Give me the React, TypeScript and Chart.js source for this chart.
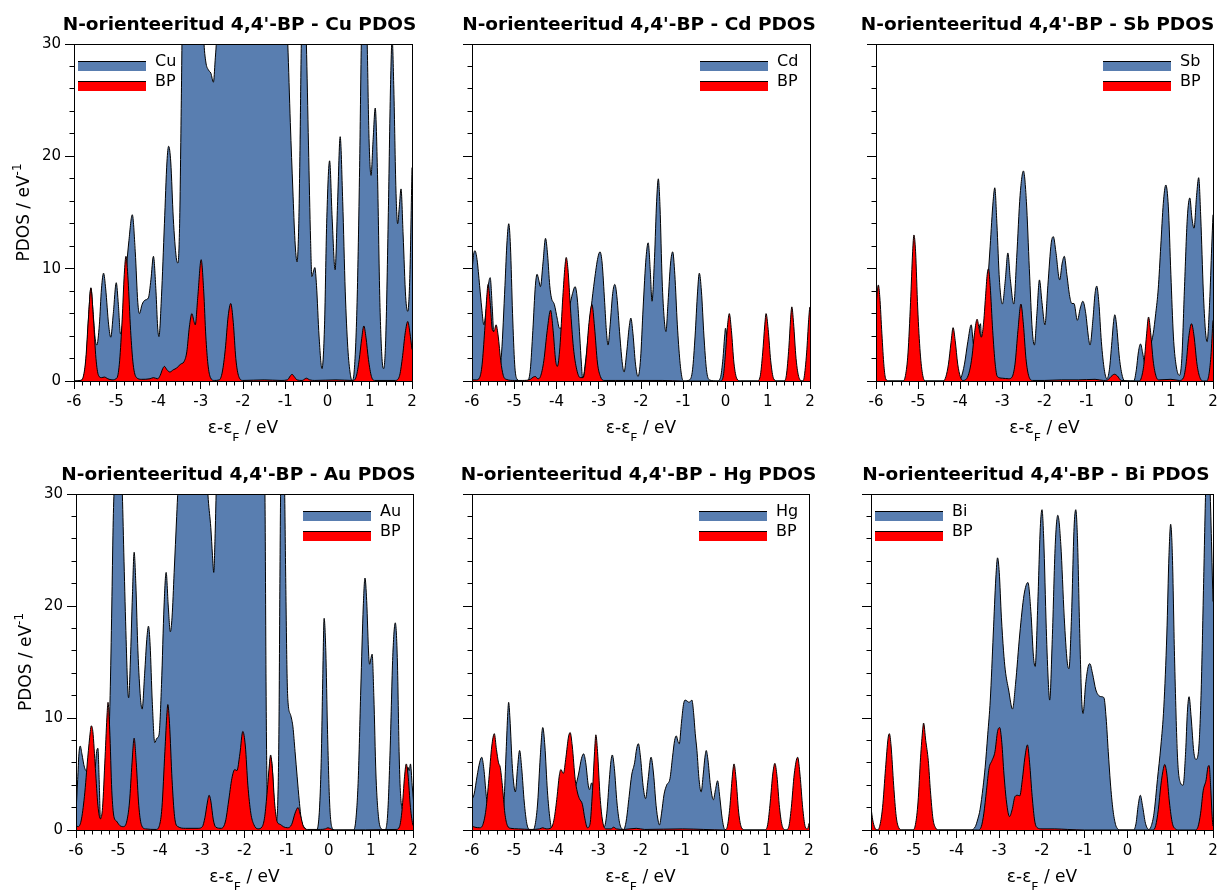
import React, { useEffect, useRef } from 'react';
import { Chart, registerables } from 'chart.js';

Chart.register(...registerables);

type Pt = [number, number];

// ---------- DATA (energy eV, PDOS eV^-1) ----------
const CU_METAL: Pt[] = [
  [-6.0, 0], [-5.85, 0.05], [-5.76, 0.5], [-5.70, 2.6], [-5.65, 6.0], [-5.60, 8.3], [-5.55, 6.2], [-5.50, 3.8],
  [-5.46, 3.2], [-5.40, 5.0], [-5.35, 8.2], [-5.30, 9.6], [-5.25, 8.2], [-5.18, 5.0], [-5.13, 3.9], [-5.07, 6.0],
  [-5.00, 8.75], [-4.95, 6.8], [-4.90, 4.2], [-4.84, 5.5], [-4.77, 9.5], [-4.70, 12.5], [-4.62, 14.8], [-4.55, 11.5],
  [-4.49, 7.0], [-4.45, 6.0], [-4.39, 6.8], [-4.32, 7.2], [-4.24, 7.4], [-4.18, 9.0], [-4.12, 11.1], [-4.06, 8.0],
  [-4.02, 4.8], [-3.99, 3.95], [-3.93, 7.5], [-3.86, 14.0], [-3.80, 19.5], [-3.76, 20.9], [-3.71, 19.5], [-3.65, 14.5],
  [-3.58, 11.0], [-3.54, 10.5], [-3.50, 14.0], [-3.46, 25.0], [-3.43, 34.0], [-3.30, 40.0], [-3.10, 42.0], [-2.98, 36.0],
  [-2.93, 30.5], [-2.88, 28.4], [-2.82, 27.7], [-2.76, 27.4], [-2.70, 26.6], [-2.66, 28.5], [-2.62, 31.0], [-2.55, 40.0],
  [-2.00, 45.0], [-1.20, 45.0], [-1.00, 35.0], [-0.94, 30.0], [-0.88, 23.0], [-0.82, 17.0], [-0.77, 12.5], [-0.72, 10.6],
  [-0.68, 14.0], [-0.65, 21.0], [-0.62, 30.0], [-0.57, 34.0], [-0.53, 33.0], [-0.50, 30.0], [-0.45, 21.0], [-0.40, 12.5],
  [-0.37, 9.3], [-0.33, 9.8], [-0.30, 10.1], [-0.26, 8.5], [-0.20, 4.0], [-0.13, 1.1], [-0.07, 5.0], [-0.02, 14.0],
  [0.05, 19.6], [0.11, 14.5], [0.18, 9.9], [0.24, 16.0], [0.30, 21.75], [0.36, 16.0], [0.42, 8.0], [0.48, 3.0],
  [0.54, 0.6], [0.58, 0.05], [0.63, 0.8], [0.70, 7.0], [0.76, 19.0], [0.80, 30.0], [0.85, 38.0], [0.90, 36.0],
  [0.94, 30.0], [0.98, 22.0], [1.03, 18.3], [1.08, 21.5], [1.13, 24.3], [1.18, 19.0], [1.24, 7.0], [1.29, 2.0],
  [1.33, 1.1], [1.38, 4.0], [1.44, 15.0], [1.49, 26.0], [1.53, 30.5], [1.57, 26.0], [1.62, 17.0], [1.66, 14.0],
  [1.70, 15.5], [1.74, 17.1], [1.79, 13.0], [1.85, 7.5], [1.90, 6.2], [1.95, 9.5], [2.00, 19.0], [2.05, 28.0],
];
const CU_BP: Pt[] = [
  [-6.0, 0], [-5.85, 0.05], [-5.78, 0.4], [-5.72, 2.0], [-5.66, 5.5], [-5.60, 8.25], [-5.54, 5.5], [-5.48, 2.0],
  [-5.42, 0.5], [-5.35, 0.3], [-5.28, 0.35], [-5.20, 0.2], [-5.10, 0.1], [-4.98, 0.3], [-4.92, 1.8], [-4.86, 5.5],
  [-4.81, 9.5], [-4.77, 11.1], [-4.72, 9.0], [-4.66, 4.5], [-4.60, 1.5], [-4.52, 0.3], [-4.40, 0.15], [-4.20, 0.2],
  [-4.12, 0.3], [-4.02, 0.2], [-3.96, 0.5], [-3.90, 1.1], [-3.86, 1.3], [-3.80, 1.0], [-3.73, 0.8], [-3.65, 1.0],
  [-3.57, 1.15], [-3.48, 1.5], [-3.40, 1.7], [-3.33, 2.6], [-3.27, 4.8], [-3.21, 6.0], [-3.16, 5.3], [-3.13, 5.0],
  [-3.07, 7.5], [-2.99, 10.8], [-2.93, 8.0], [-2.88, 4.0], [-2.83, 1.5], [-2.77, 0.3], [-2.68, 0.05], [-2.56, 0.1],
  [-2.49, 0.8], [-2.42, 2.8], [-2.35, 5.8], [-2.29, 6.9], [-2.23, 5.2], [-2.17, 2.0], [-2.10, 0.4], [-2.00, 0.05],
  [-1.50, 0.1], [-1.10, 0.05], [-0.95, 0.1], [-0.88, 0.45], [-0.84, 0.6], [-0.79, 0.4], [-0.72, 0.1], [-0.60, 0.05],
  [-0.50, 0.25], [-0.42, 0.1], [-0.30, 0.05], [0.20, 0.1], [0.60, 0.05], [0.68, 0.4], [0.75, 1.9], [0.81, 3.8],
  [0.86, 4.9], [0.91, 3.9], [0.97, 1.9], [1.04, 0.4], [1.12, 0.05], [1.60, 0.05], [1.70, 0.4], [1.77, 2.0],
  [1.84, 4.3], [1.90, 5.3], [1.95, 4.3], [2.00, 2.8], [2.05, 1.3],
];

const CD_METAL: Pt[] = [
  [-6.0, 9.8], [-5.96, 11.3], [-5.93, 11.6], [-5.88, 10.8], [-5.82, 8.5], [-5.77, 6.5], [-5.72, 5.0], [-5.67, 6.2],
  [-5.61, 8.6], [-5.57, 9.2], [-5.52, 6.5], [-5.48, 3.5], [-5.43, 1.2], [-5.37, 0.6], [-5.30, 2.5], [-5.22, 8.5],
  [-5.17, 12.5], [-5.13, 14.0], [-5.09, 12.0], [-5.04, 6.0], [-4.99, 1.5], [-4.94, 0.2], [-4.85, 0], [-4.68, 0.05],
  [-4.62, 1.0], [-4.56, 4.5], [-4.50, 8.5], [-4.46, 9.5], [-4.42, 9.0], [-4.38, 8.4], [-4.32, 10.5], [-4.26, 12.7],
  [-4.21, 11.2], [-4.16, 8.5], [-4.12, 7.4], [-4.05, 6.8], [-3.98, 5.5], [-3.93, 4.7], [-3.86, 4.8], [-3.78, 5.3],
  [-3.70, 6.5], [-3.62, 7.8], [-3.56, 8.4], [-3.50, 7.0], [-3.45, 4.0], [-3.41, 1.5], [-3.38, 0.2], [-3.32, 1.5],
  [-3.25, 4.0], [-3.18, 6.5], [-3.10, 9.0], [-3.02, 11.0], [-2.97, 11.5], [-2.92, 10.5], [-2.86, 7.0], [-2.82, 4.5],
  [-2.78, 3.2], [-2.73, 5.0], [-2.67, 7.8], [-2.62, 8.6], [-2.57, 7.5], [-2.50, 4.0], [-2.44, 1.5], [-2.40, 0.8],
  [-2.34, 2.5], [-2.28, 4.8], [-2.24, 5.6], [-2.19, 4.2], [-2.13, 1.5], [-2.07, 0.4], [-2.01, 2.0], [-1.95, 6.5],
  [-1.88, 11.0], [-1.83, 12.3], [-1.78, 9.8], [-1.74, 7.1], [-1.68, 11.0], [-1.63, 16.0], [-1.59, 18.0], [-1.55, 15.5],
  [-1.50, 9.0], [-1.45, 5.5], [-1.41, 4.4], [-1.36, 7.0], [-1.30, 10.5], [-1.25, 11.5], [-1.20, 9.5], [-1.14, 5.0],
  [-1.08, 1.8], [-1.03, 0.3], [-0.98, 0], [-0.85, 0.1], [-0.78, 1.0], [-0.72, 4.0], [-0.66, 8.0], [-0.62, 9.6],
  [-0.57, 8.0], [-0.51, 4.0], [-0.45, 1.0], [-0.38, 0.1], [-0.20, 0], [-0.12, 0.3], [-0.06, 2.0], [-0.02, 4.0],
  [0.0, 4.7], [0.04, 3.5], [0.09, 1.5], [0.13, 0.5], [0.18, 0.05], [0.30, 0], [2.05, 0],
];
const CD_BP: Pt[] = [
  [-6.0, 0.1], [-5.90, 0.1], [-5.82, 0.3], [-5.76, 1.5], [-5.70, 4.5], [-5.65, 7.5], [-5.62, 8.6], [-5.57, 7.0],
  [-5.52, 4.6], [-5.48, 4.4], [-5.43, 5.0], [-5.38, 4.0], [-5.32, 1.8], [-5.26, 0.5], [-5.19, 0.15], [-5.00, 0.05],
  [-4.80, 0.05], [-4.62, 0.15], [-4.55, 0.35], [-4.50, 0.4], [-4.44, 0.2], [-4.38, 0.4], [-4.30, 1.8], [-4.22, 4.5],
  [-4.14, 6.3], [-4.08, 4.5], [-4.02, 1.8], [-3.98, 1.3], [-3.92, 3.0], [-3.85, 7.5], [-3.80, 10.2], [-3.77, 11.0],
  [-3.73, 10.0], [-3.67, 6.5], [-3.60, 3.0], [-3.52, 1.0], [-3.44, 0.3], [-3.37, 0.3], [-3.30, 2.0], [-3.23, 5.2],
  [-3.16, 6.8], [-3.10, 4.8], [-3.03, 1.6], [-2.96, 0.4], [-2.88, 0.05], [-2.60, 0.05], [-2.00, 0.05], [-1.50, 0.05],
  [-1.00, 0], [-0.12, 0], [-0.05, 0.5], [0.0, 2.5], [0.05, 5.0], [0.09, 6.0], [0.14, 4.5], [0.20, 1.6],
  [0.27, 0.2], [0.35, 0], [0.75, 0], [0.82, 0.4], [0.88, 2.5], [0.93, 5.0], [0.96, 6.0], [1.01, 4.6],
  [1.07, 1.8], [1.14, 0.2], [1.22, 0], [1.38, 0], [1.44, 0.5], [1.50, 3.0], [1.54, 5.5], [1.57, 6.6],
  [1.61, 5.2], [1.67, 2.0], [1.74, 0.3], [1.82, 0], [1.86, 0.3], [1.92, 2.5], [1.97, 5.5], [2.0, 6.6], [2.05, 5.5],
];

const SB_METAL: Pt[] = [
  [-6.0, 0], [-4.05, 0], [-3.98, 0.3], [-3.90, 1.5], [-3.82, 3.5], [-3.74, 5.0], [-3.68, 3.2], [-3.60, 3.6],
  [-3.52, 5.1], [-3.48, 2.4], [-3.42, 4.5], [-3.36, 8.0], [-3.29, 12.0], [-3.22, 16.0], [-3.18, 17.2], [-3.13, 14.0],
  [-3.07, 9.0], [-3.00, 6.85], [-2.93, 9.0], [-2.87, 11.4], [-2.81, 9.0], [-2.73, 6.85], [-2.66, 11.0], [-2.58, 16.5],
  [-2.50, 18.7], [-2.43, 16.0], [-2.36, 10.0], [-2.29, 4.5], [-2.24, 3.2], [-2.18, 6.0], [-2.12, 9.0], [-2.06, 7.0],
  [-1.99, 5.0], [-1.92, 8.5], [-1.84, 12.3], [-1.79, 12.85], [-1.73, 11.5], [-1.64, 9.0], [-1.58, 10.5], [-1.53, 11.1],
  [-1.47, 9.5], [-1.40, 7.5], [-1.35, 6.9], [-1.30, 6.9], [-1.22, 5.4], [-1.15, 6.5], [-1.09, 7.1], [-1.02, 6.0],
  [-0.96, 4.0], [-0.92, 3.2], [-0.85, 5.5], [-0.80, 7.8], [-0.76, 8.45], [-0.71, 7.0], [-0.65, 3.5], [-0.58, 1.0],
  [-0.52, 0.2], [-0.46, 1.0], [-0.40, 3.5], [-0.36, 5.3], [-0.33, 5.9], [-0.29, 5.0], [-0.22, 2.0], [-0.15, 0.4],
  [-0.09, 0], [0.12, 0], [0.18, 1.0], [0.23, 2.6], [0.28, 3.3], [0.33, 2.5], [0.38, 1.6], [0.45, 2.2],
  [0.52, 3.2], [0.58, 4.2], [0.64, 6.0], [0.70, 8.2], [0.76, 12.0], [0.82, 15.8], [0.88, 17.45], [0.94, 15.5],
  [1.00, 9.5], [1.06, 4.0], [1.12, 1.5], [1.20, 0.5], [1.26, 2.0], [1.32, 8.0], [1.39, 14.5], [1.45, 16.3],
  [1.50, 14.5], [1.55, 13.6], [1.61, 16.5], [1.66, 18.1], [1.71, 14.5], [1.77, 8.0], [1.82, 4.5], [1.86, 3.5],
  [1.92, 7.0], [1.97, 12.0], [2.0, 14.8], [2.05, 19.0],
];
const SB_BP: Pt[] = [
  [-6.0, 6.5], [-5.97, 8.0], [-5.945, 8.55], [-5.91, 7.5], [-5.86, 4.2], [-5.81, 1.3], [-5.77, 0.2], [-5.70, 0],
  [-5.36, 0], [-5.30, 0.5], [-5.24, 2.5], [-5.18, 7.0], [-5.13, 11.5], [-5.10, 13.0], [-5.06, 11.5], [-5.01, 6.5],
  [-4.95, 2.5], [-4.89, 0.5], [-4.82, 0], [-4.40, 0], [-4.34, 0.4], [-4.28, 1.5], [-4.22, 3.4], [-4.17, 4.75],
  [-4.12, 3.6], [-4.06, 1.5], [-4.00, 0.4], [-3.94, 0.05], [-3.85, 0.2], [-3.78, 0.9], [-3.72, 2.2], [-3.66, 4.3],
  [-3.60, 5.5], [-3.55, 4.6], [-3.50, 3.9], [-3.45, 5.0], [-3.40, 7.5], [-3.36, 9.5], [-3.33, 10.0], [-3.29, 8.5],
  [-3.23, 4.5], [-3.17, 1.5], [-3.12, 0.4], [-3.00, 0.25], [-2.85, 0.2], [-2.78, 0.3], [-2.70, 1.5], [-2.63, 4.5],
  [-2.56, 6.85], [-2.50, 5.0], [-2.44, 2.0], [-2.37, 0.4], [-2.28, 0.05], [-2.00, 0.05], [-1.60, 0.1], [-1.20, 0.1],
  [-0.80, 0.15], [-0.60, 0.05], [-0.50, 0.1], [-0.42, 0.4], [-0.34, 0.6], [-0.27, 0.45], [-0.18, 0.05], [0.25, 0],
  [0.30, 0.3], [0.36, 1.5], [0.42, 4.0], [0.47, 5.7], [0.52, 4.3], [0.58, 1.8], [0.65, 0.4], [0.72, 0.1],
  [1.00, 0.15], [1.20, 0.05], [1.30, 0.3], [1.36, 1.5], [1.42, 3.8], [1.49, 5.1], [1.55, 4.0], [1.62, 1.5],
  [1.69, 0.3], [1.78, 0], [1.85, 0], [1.90, 0.5], [1.95, 2.2], [2.0, 5.4], [2.05, 7.0],
];

const AU_METAL: Pt[] = [
  [-6.0, 1.5], [-5.96, 4.5], [-5.93, 6.8], [-5.90, 7.5], [-5.86, 6.8], [-5.80, 5.6], [-5.72, 5.2], [-5.64, 6.0],
  [-5.55, 5.5], [-5.51, 7.0], [-5.48, 7.3], [-5.45, 4.5], [-5.42, 1.0], [-5.32, 1.8], [-5.24, 6.0], [-5.19, 12.0],
  [-5.15, 20.0], [-5.12, 27.0], [-5.09, 31.0], [-5.00, 38.0], [-4.93, 33.0], [-4.90, 30.0], [-4.86, 24.0], [-4.81, 17.0],
  [-4.77, 12.5], [-4.75, 11.8], [-4.71, 15.0], [-4.66, 21.0], [-4.62, 24.8], [-4.58, 22.0], [-4.53, 16.0], [-4.47, 11.8],
  [-4.43, 10.8], [-4.37, 14.0], [-4.32, 17.0], [-4.28, 18.2], [-4.24, 16.5], [-4.19, 11.5], [-4.13, 7.8], [-4.08, 8.2],
  [-4.03, 8.5], [-3.97, 13.0], [-3.91, 20.0], [-3.86, 23.0], [-3.81, 20.0], [-3.76, 17.7], [-3.72, 19.0], [-3.67, 23.0],
  [-3.61, 28.0], [-3.58, 30.5], [-3.50, 38.0], [-3.00, 40.0], [-2.90, 32.0], [-2.86, 29.5], [-2.80, 27.0], [-2.76, 24.5],
  [-2.73, 23.0], [-2.70, 26.0], [-2.67, 30.5], [-2.60, 38.0], [-1.60, 40.0], [-1.53, 35.0], [-1.51, 28.0], [-1.49, 14.0],
  [-1.47, 5.0], [-1.45, 2.5], [-1.42, 4.5], [-1.38, 6.5], [-1.34, 5.5], [-1.29, 2.0], [-1.25, 0.8], [-1.21, 2.5],
  [-1.18, 10.0], [-1.16, 22.0], [-1.14, 31.0], [-1.10, 36.0], [-1.05, 31.0], [-1.02, 22.0], [-0.99, 14.0], [-0.97, 11.6],
  [-0.90, 10.2], [-0.85, 9.2], [-0.80, 7.0], [-0.75, 4.75], [-0.70, 2.6], [-0.65, 0.9], [-0.57, 0.2], [-0.48, 0],
  [-0.30, 0], [-0.24, 0.8], [-0.18, 6.0], [-0.14, 14.0], [-0.11, 18.9], [-0.07, 16.0], [-0.03, 9.0], [0.02, 2.5],
  [0.07, 0.3], [0.14, 0], [0.58, 0], [0.64, 0.8], [0.70, 4.5], [0.76, 12.5], [0.82, 20.0], [0.86, 22.5],
  [0.90, 20.5], [0.95, 15.5], [0.97, 14.8], [1.00, 15.3], [1.03, 15.7], [1.07, 12.0], [1.12, 5.0], [1.18, 1.2],
  [1.25, 0.1], [1.33, 0], [1.40, 1.5], [1.46, 7.5], [1.52, 15.5], [1.58, 18.5], [1.63, 15.0], [1.67, 7.0],
  [1.70, 3.5], [1.76, 1.8], [1.82, 3.5], [1.88, 5.6], [1.91, 5.3], [1.94, 5.9], [1.98, 4.0], [2.03, 1.8],
];
const AU_BP: Pt[] = [
  [-6.0, 0.4], [-5.95, 0.3], [-5.88, 0.8], [-5.80, 3.0], [-5.72, 6.5], [-5.66, 8.8], [-5.64, 9.3], [-5.60, 8.8],
  [-5.54, 5.5], [-5.48, 2.2], [-5.42, 1.0], [-5.37, 2.0], [-5.31, 6.5], [-5.26, 10.5], [-5.24, 11.4], [-5.20, 9.0],
  [-5.15, 3.5], [-5.10, 1.2], [-5.04, 0.8], [-4.96, 0.4], [-4.88, 0.3], [-4.80, 0.7], [-4.73, 2.5], [-4.67, 6.0],
  [-4.62, 8.2], [-4.57, 6.0], [-4.51, 2.2], [-4.45, 0.5], [-4.35, 0.1], [-4.10, 0.05], [-4.02, 0.4], [-3.96, 2.0],
  [-3.89, 7.0], [-3.84, 10.5], [-3.82, 11.2], [-3.78, 9.5], [-3.72, 4.5], [-3.66, 1.2], [-3.58, 0.3], [-3.40, 0.15],
  [-3.10, 0.15], [-3.00, 0.3], [-2.94, 1.1], [-2.88, 2.5], [-2.84, 3.1], [-2.80, 2.6], [-2.74, 0.9], [-2.68, 0.25],
  [-2.55, 0.15], [-2.45, 0.8], [-2.38, 2.5], [-2.30, 4.6], [-2.23, 5.4], [-2.18, 5.3], [-2.11, 6.8], [-2.04, 8.8],
  [-1.98, 7.5], [-1.92, 4.0], [-1.85, 1.5], [-1.78, 0.5], [-1.68, 0.1], [-1.58, 0.3], [-1.52, 1.2], [-1.46, 3.5],
  [-1.41, 5.8], [-1.38, 6.7], [-1.34, 5.5], [-1.28, 2.2], [-1.22, 0.7], [-1.15, 0.5], [-1.08, 0.3], [-0.98, 0.2],
  [-0.88, 0.5], [-0.80, 1.5], [-0.73, 2.0], [-0.67, 1.3], [-0.60, 0.3], [-0.50, 0.05], [-0.20, 0.05], [-0.08, 0.1],
  [-0.02, 0.2], [0.05, 0.1], [0.15, 0], [1.60, 0.05], [1.68, 0.3], [1.74, 1.8], [1.80, 4.8], [1.84, 5.9],
  [1.88, 5.0], [1.94, 2.0], [2.0, 0.4], [2.05, 0.1],
];

const HG_METAL: Pt[] = [
  [-6.0, 2.7], [-5.95, 3.2], [-5.88, 4.8], [-5.82, 6.0], [-5.77, 6.5], [-5.72, 5.5], [-5.66, 3.0], [-5.60, 1.2],
  [-5.52, 0.4], [-5.40, 0.2], [-5.30, 0.4], [-5.24, 2.5], [-5.19, 7.0], [-5.15, 10.5], [-5.13, 11.4], [-5.10, 10.0],
  [-5.04, 5.5], [-4.97, 3.4], [-4.92, 5.5], [-4.87, 7.1], [-4.82, 5.5], [-4.76, 2.5], [-4.70, 0.6], [-4.64, 0.05],
  [-4.56, 0], [-4.50, 0.5], [-4.44, 2.5], [-4.38, 6.5], [-4.32, 9.15], [-4.27, 7.5], [-4.21, 3.5], [-4.15, 1.0],
  [-4.10, 0.1], [-4.02, 0.4], [-3.95, 1.0], [-3.85, 2.0], [-3.75, 2.5], [-3.65, 3.0], [-3.55, 3.8], [-3.47, 5.0],
  [-3.40, 6.4], [-3.35, 6.8], [-3.30, 6.0], [-3.24, 4.0], [-3.21, 3.6], [-3.16, 4.2], [-3.10, 3.5], [-3.04, 2.5],
  [-2.98, 1.0], [-2.92, 0.3], [-2.86, 0.3], [-2.80, 1.5], [-2.74, 4.5], [-2.70, 6.2], [-2.67, 6.7], [-2.62, 5.5],
  [-2.56, 2.5], [-2.50, 0.7], [-2.44, 0.1], [-2.40, 0.05], [-2.34, 0.8], [-2.27, 3.0], [-2.21, 4.9], [-2.14, 6.0],
  [-2.09, 7.3], [-2.05, 7.7], [-2.00, 6.5], [-1.94, 4.0], [-1.88, 2.8], [-1.82, 4.5], [-1.75, 6.5], [-1.69, 5.0],
  [-1.63, 2.2], [-1.58, 0.8], [-1.55, 0.45], [-1.50, 1.5], [-1.44, 3.2], [-1.38, 4.0], [-1.30, 4.6], [-1.24, 6.5],
  [-1.19, 8.0], [-1.15, 8.4], [-1.11, 7.9], [-1.08, 7.7], [-1.03, 9.5], [-0.98, 11.2], [-0.94, 11.6], [-0.89, 11.5],
  [-0.85, 11.4], [-0.81, 11.5], [-0.78, 11.6], [-0.74, 10.5], [-0.70, 8.6], [-0.66, 7.1], [-0.61, 4.5], [-0.56, 3.4],
  [-0.51, 5.0], [-0.47, 6.5], [-0.44, 7.1], [-0.40, 6.3], [-0.34, 4.0], [-0.27, 2.7], [-0.22, 3.6], [-0.17, 4.4],
  [-0.12, 3.0], [-0.06, 1.0], [0.0, 0.05], [0.10, 0], [2.05, 0],
];
const HG_BP: Pt[] = [
  [-6.0, 0.35], [-5.93, 0.25], [-5.82, 0.2], [-5.74, 0.5], [-5.67, 1.8], [-5.60, 4.5], [-5.53, 7.5], [-5.47, 8.6],
  [-5.42, 7.2], [-5.37, 6.0], [-5.33, 5.6], [-5.28, 4.0], [-5.22, 1.5], [-5.16, 0.4], [-5.08, 0.15], [-4.90, 0.1],
  [-4.60, 0.05], [-4.40, 0.1], [-4.32, 0.2], [-4.24, 0.1], [-4.12, 0.2], [-4.05, 1.0], [-3.98, 3.0], [-3.93, 4.8],
  [-3.89, 5.4], [-3.83, 5.05], [-3.77, 6.5], [-3.71, 8.3], [-3.67, 8.7], [-3.62, 7.5], [-3.55, 4.5], [-3.50, 3.4],
  [-3.45, 2.8], [-3.38, 2.3], [-3.32, 1.0], [-3.26, 0.2], [-3.20, 0.5], [-3.14, 3.5], [-3.09, 7.0], [-3.06, 8.5],
  [-3.02, 7.0], [-2.96, 3.0], [-2.90, 0.8], [-2.82, 0.1], [-2.70, 0.1], [-2.64, 0.25], [-2.57, 0.1], [-2.40, 0.05],
  [-2.10, 0.15], [-1.90, 0.05], [-1.00, 0.1], [-0.50, 0.05], [0.0, 0], [0.06, 0.3], [0.12, 2.0], [0.18, 4.8],
  [0.22, 5.9], [0.27, 4.5], [0.33, 1.6], [0.40, 0.2], [0.48, 0], [0.95, 0], [1.02, 0.5], [1.08, 2.5],
  [1.14, 5.0], [1.19, 5.95], [1.24, 4.8], [1.30, 2.0], [1.37, 0.3], [1.45, 0], [1.52, 0.3], [1.58, 2.0],
  [1.65, 5.0], [1.73, 6.5], [1.79, 4.8], [1.85, 2.0], [1.91, 0.3], [1.96, 0.1], [2.0, 0.6], [2.05, 2.0],
];

const BI_METAL: Pt[] = [
  [-6.0, 0], [-3.66, 0], [-3.56, 0.3], [-3.50, 1.0], [-3.45, 1.8], [-3.38, 3.8], [-3.33, 5.6], [-3.27, 8.5],
  [-3.21, 11.6], [-3.14, 17.5], [-3.08, 22.5], [-3.04, 24.3], [-3.00, 23.0], [-2.95, 19.0], [-2.90, 16.0], [-2.86, 14.3],
  [-2.78, 12.5], [-2.69, 10.8], [-2.62, 13.0], [-2.52, 17.5], [-2.42, 21.0], [-2.33, 22.1], [-2.26, 19.5], [-2.20, 15.5],
  [-2.16, 14.6], [-2.10, 20.0], [-2.04, 27.0], [-2.00, 28.6], [-1.96, 26.0], [-1.90, 18.0], [-1.85, 13.0], [-1.82, 11.6],
  [-1.76, 17.0], [-1.69, 25.5], [-1.63, 28.1], [-1.56, 25.5], [-1.48, 19.0], [-1.41, 15.0], [-1.37, 14.4], [-1.31, 19.0],
  [-1.25, 27.0], [-1.21, 28.6], [-1.17, 26.0], [-1.12, 18.0], [-1.07, 11.5], [-1.04, 10.4], [-0.98, 13.0], [-0.92, 14.6],
  [-0.88, 14.85], [-0.82, 14.0], [-0.74, 12.5], [-0.67, 12.0], [-0.60, 11.9], [-0.55, 11.8], [-0.50, 10.0], [-0.45, 7.0],
  [-0.40, 4.2], [-0.34, 1.8], [-0.28, 0.5], [-0.24, 0.15], [-0.18, 0], [0.14, 0], [0.20, 0.6], [0.25, 2.2],
  [0.30, 3.1], [0.35, 2.2], [0.42, 0.6], [0.50, 0.05], [0.55, 0.3], [0.62, 1.5], [0.70, 4.5], [0.78, 7.5],
  [0.85, 11.0], [0.92, 17.5], [0.97, 24.5], [1.01, 27.3], [1.05, 24.5], [1.10, 15.5], [1.17, 6.5], [1.24, 4.2],
  [1.30, 4.0], [1.36, 7.0], [1.40, 10.5], [1.44, 11.9], [1.49, 10.0], [1.55, 7.0], [1.60, 6.3], [1.66, 7.0],
  [1.72, 12.0], [1.78, 22.0], [1.83, 30.5], [1.88, 34.0], [1.93, 30.5], [1.97, 25.0], [2.0, 20.4], [2.05, 14.0],
];
const BI_BP: Pt[] = [
  [-6.0, 2.0], [-5.96, 0.9], [-5.91, 0.2], [-5.86, 0], [-5.80, 0.3], [-5.73, 2.0], [-5.66, 5.5], [-5.60, 8.2],
  [-5.57, 8.6], [-5.53, 7.5], [-5.47, 4.0], [-5.41, 1.2], [-5.35, 0.2], [-5.28, 0], [-5.02, 0], [-4.96, 0.5],
  [-4.90, 2.5], [-4.84, 6.5], [-4.79, 9.0], [-4.77, 9.55], [-4.72, 8.0], [-4.66, 6.2], [-4.61, 3.5], [-4.55, 1.0],
  [-4.49, 0.2], [-4.42, 0], [-3.50, 0], [-3.42, 0.3], [-3.36, 1.5], [-3.30, 3.5], [-3.24, 5.5], [-3.17, 6.2],
  [-3.10, 7.0], [-3.04, 8.8], [-2.99, 9.15], [-2.94, 7.8], [-2.89, 5.0], [-2.83, 2.5], [-2.76, 1.2], [-2.70, 1.8],
  [-2.63, 3.0], [-2.57, 3.1], [-2.52, 3.05], [-2.46, 4.5], [-2.40, 6.5], [-2.34, 7.6], [-2.29, 6.0], [-2.23, 3.0],
  [-2.17, 0.8], [-2.11, 0.2], [-2.00, 0.1], [-1.70, 0.1], [-1.40, 0.05], [-1.00, 0], [0.60, 0], [0.66, 0.4],
  [0.72, 1.8], [0.78, 4.0], [0.84, 5.5], [0.87, 5.85], [0.92, 5.0], [0.98, 2.5], [1.05, 0.6], [1.12, 0.1],
  [1.20, 0], [1.58, 0], [1.65, 0.3], [1.71, 1.5], [1.77, 3.5], [1.84, 4.5], [1.88, 5.6], [1.91, 5.75],
  [1.95, 3.5], [1.98, 1.2], [2.0, 0.35], [2.05, 0],
];

// ---------- axis ticks ----------
const X_MIN = -6;
const X_MAX = 2;
const Y_MIN = 0;
const Y_MAX = 30;
const X_STEP = 1;
const Y_STEP = 10;
const X_MINOR: number[] = [];
for (let i = 1; i < 40; i++) if (i % 5 !== 0) X_MINOR.push(X_MIN + i * 0.2);
const Y_MINOR: number[] = [];
for (let v = 2; v < Y_MAX; v += 2) if (v % 10 !== 0) Y_MINOR.push(v);

// ---------- styling / layout ----------
const FONT = "'DejaVu Sans', 'Liberation Sans', sans-serif";
const METAL_COLOR = 'rgb(89,126,176)';
const BP_COLOR = '#ff0000';
const TITLE_PREFIX = "N-orienteeritud 4,4'-BP - ";

type PanelSpec = {
  metal: string;
  metalData: Pt[];
  bpData: Pt[];
  area: { l: number; r: number; t: number; b: number };
  titleX: number;
  legend: 'left' | 'right';
  yLabels: boolean;
};

const PANELS: PanelSpec[] = [
  { metal: 'Cu', metalData: CU_METAL, bpData: CU_BP, area: { l: 74, r: 412, t: 44, b: 381 }, titleX: 239.5, legend: 'left', yLabels: true },
  { metal: 'Cd', metalData: CD_METAL, bpData: CD_BP, area: { l: 472, r: 810, t: 44, b: 381 }, titleX: 639, legend: 'right', yLabels: false },
  { metal: 'Sb', metalData: SB_METAL, bpData: SB_BP, area: { l: 876, r: 1213, t: 44, b: 381 }, titleX: 1037.5, legend: 'right', yLabels: false },
  { metal: 'Au', metalData: AU_METAL, bpData: AU_BP, area: { l: 76, r: 413, t: 494, b: 830 }, titleX: 238.5, legend: 'right', yLabels: true },
  { metal: 'Hg', metalData: HG_METAL, bpData: HG_BP, area: { l: 472, r: 809, t: 494, b: 830 }, titleX: 638.5, legend: 'right', yLabels: false },
  { metal: 'Bi', metalData: BI_METAL, bpData: BI_BP, area: { l: 871, r: 1213, t: 494, b: 830 }, titleX: 1036, legend: 'left', yLabels: false },
];

const Y_AXIS_W = 74;
const TOP_H = 44;
const X_AXIS_H = 60;

const al = (v: number) => Math.round(v - 0.5) + 0.5;

const decorPlugin = {
  id: 'decor',
  afterDatasetsDraw(chart: any, _args: any, opts: any) {
    const { ctx, chartArea: a, scales } = chart;
    const xs = scales.x;
    const ys = scales.y;
    ctx.save();
    ctx.strokeStyle = '#000';
    ctx.lineWidth = 1;
    // frame
    const L = al(a.left), R = al(a.right), T = al(a.top), B = al(a.bottom);
    ctx.strokeRect(L, T, R - L, B - T);
    // minor ticks
    ctx.beginPath();
    for (const v of X_MINOR) {
      const px = al(xs.getPixelForValue(v));
      ctx.moveTo(px, B);
      ctx.lineTo(px, B + 4);
    }
    for (const v of Y_MINOR) {
      const py = al(ys.getPixelForValue(v));
      ctx.moveTo(L, py);
      ctx.lineTo(L - 5, py);
    }
    ctx.stroke();

    // title
    ctx.fillStyle = '#000';
    ctx.font = `bold 18.5px ${FONT}`;
    ctx.textAlign = 'center';
    ctx.textBaseline = 'alphabetic';
    ctx.fillText(opts.title, opts.titleX, a.top - 14);

    // legend (metal first, then BP)
    const ds = chart.data.datasets;
    const items = [ds[1], ds[0]];
    const x0 = opts.legend === 'left' ? a.left + 4 : a.right - 110;
    items.forEach((d: any, i: number) => {
      const top = a.top + 17 + i * 20;
      ctx.fillStyle = d.backgroundColor;
      ctx.fillRect(x0, top, 68, 10);
      ctx.beginPath();
      ctx.moveTo(x0, top + 0.5);
      ctx.lineTo(x0 + 68, top + 0.5);
      ctx.stroke();
      ctx.fillStyle = '#000';
      ctx.font = `16px ${FONT}`;
      ctx.textAlign = 'left';
      ctx.fillText(d.label, x0 + 77, top + 5);
    });

    // x-axis title: ε-ε_F / eV
    const cx = (a.left + a.right) / 2;
    const by = a.bottom + 52;
    ctx.font = `17px ${FONT}`;
    const p1 = 'ε-ε';
    const p2 = ' / eV';
    const w1 = ctx.measureText(p1).width;
    const w2 = ctx.measureText(p2).width;
    ctx.font = `12.5px ${FONT}`;
    const ws = ctx.measureText('F').width;
    let sx = cx - (w1 + ws + w2) / 2;
    ctx.textAlign = 'left';
    ctx.font = `17px ${FONT}`;
    ctx.fillText(p1, sx, by);
    sx += w1;
    ctx.font = `12.5px ${FONT}`;
    ctx.fillText('F', sx, by + 9);
    sx += ws;
    ctx.font = `17px ${FONT}`;
    ctx.fillText(p2, sx, by);

    // y-axis title: PDOS / eV^-1
    if (opts.yTitle) {
      const cy = (a.top + a.bottom) / 2;
      ctx.font = `17px ${FONT}`;
      const m1 = 'PDOS / eV';
      const mw = ctx.measureText(m1).width;
      ctx.font = `12px ${FONT}`;
      const sw = ctx.measureText('-1').width;
      ctx.translate(a.left - 45, cy);
      ctx.rotate(-Math.PI / 2);
      let tx = -(mw + sw) / 2;
      ctx.font = `17px ${FONT}`;
      ctx.fillText(m1, tx, 0);
      tx += mw;
      ctx.font = `12px ${FONT}`;
      ctx.fillText('-1', tx, -8);
    }
    ctx.restore();
  },
};

const toXY = (pts: Pt[]) => pts.map(([x, y]) => ({ x, y }));

function Panel({ spec }: { spec: PanelSpec }) {
  const ref = useRef<HTMLCanvasElement>(null);
  const { l, r, t, b } = spec.area;
  const padR = Math.min(8, 1217 - r);
  const left = l - Y_AXIS_W;
  const top = t - TOP_H;
  const width = r - l + Y_AXIS_W + padR;
  const height = b - t + TOP_H + X_AXIS_H;

  useEffect(() => {
    const common = {
      borderColor: '#000',
      borderWidth: 1,
      fill: 'origin',
      pointRadius: 0,
      pointHoverRadius: 0,
      cubicInterpolationMode: 'monotone',
      clip: 0,
    };
    const chart = new Chart(ref.current as HTMLCanvasElement, {
      type: 'line',
      data: {
        datasets: [
          { ...common, label: 'BP', data: toXY(spec.bpData), backgroundColor: BP_COLOR },
          { ...common, label: spec.metal, data: toXY(spec.metalData), backgroundColor: METAL_COLOR },
        ],
      } as any,
      options: {
        responsive: false,
        animation: false,
        devicePixelRatio: 1,
        events: [],
        layout: { padding: { top: TOP_H, left: 0, right: padR, bottom: 0 } },
        plugins: {
          legend: { display: false },
          tooltip: { enabled: false },
          title: { display: false },
          decor: {
            title: TITLE_PREFIX + spec.metal + ' PDOS',
            titleX: spec.titleX - left,
            legend: spec.legend,
            yTitle: spec.yLabels,
          },
        } as any,
        scales: {
          x: {
            type: 'linear',
            min: X_MIN,
            max: X_MAX,
            ticks: {
              stepSize: X_STEP,
              autoSkip: false,
              maxRotation: 0,
              padding: 4,
              color: '#000',
              font: { family: FONT, size: 15 },
              callback: (v: any) => String(v),
            },
            grid: { display: true, drawOnChartArea: false, drawTicks: true, tickLength: 8, color: '#000', lineWidth: 1 },
            border: { display: false },
            afterFit: (s: any) => {
              s.height = X_AXIS_H;
              s.paddingLeft = 0;
              s.paddingRight = 0;
            },
          },
          y: {
            type: 'linear',
            min: Y_MIN,
            max: Y_MAX,
            ticks: {
              stepSize: Y_STEP,
              padding: 4,
              color: '#000',
              font: { family: FONT, size: 15 },
              callback: (v: any) => (spec.yLabels ? String(v) : ''),
            },
            grid: { display: true, drawOnChartArea: false, drawTicks: true, tickLength: 9, color: '#000', lineWidth: 1 },
            border: { display: false },
            afterFit: (s: any) => {
              s.width = Y_AXIS_W;
              s.paddingTop = 0;
              s.paddingBottom = 0;
            },
          },
        },
      } as any,
      plugins: [decorPlugin as any],
    });
    return () => chart.destroy();
  }, []);

  return (
    <canvas
      ref={ref}
      width={width}
      height={height}
      style={{ position: 'absolute', left, top, width, height }}
    />
  );
}

export default function App() {
  return (
    <div
      style={{
        position: 'absolute',
        left: 0,
        top: 0,
        width: 1217,
        height: 890,
        overflow: 'hidden',
        background: '#fff',
      }}
    >
      {PANELS.map((p) => (
        <Panel key={p.metal} spec={p} />
      ))}
    </div>
  );
}
